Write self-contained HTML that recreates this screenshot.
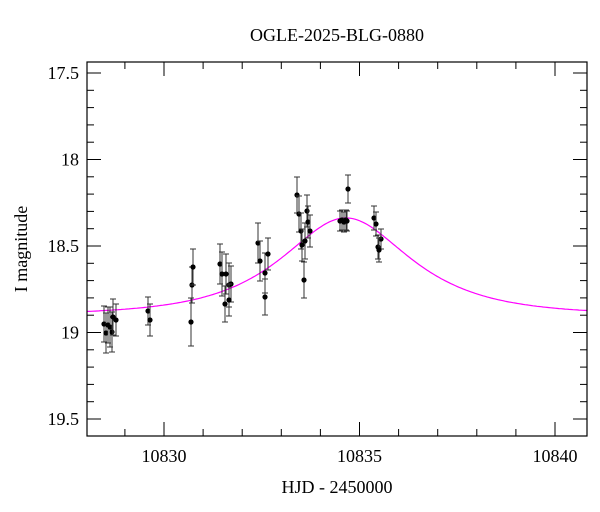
<!DOCTYPE html>
<html><head><style>body{margin:0;background:#fff}svg{display:block}text{font-family:"Liberation Serif",serif;fill:#000}</style></head>
<body>
<svg id="s" width="600" height="512" xmlns="http://www.w3.org/2000/svg">
<text x="337" y="41" font-size="18" text-anchor="middle">OGLE-2025-BLG-0880</text>
<text x="337" y="493" font-size="18" text-anchor="middle">HJD - 2450000</text>
<text transform="translate(27,249) rotate(-90)" font-size="18" text-anchor="middle">I magnitude</text>
<g id="g"></g>
<rect x="87" y="62" width="500" height="374" fill="none" stroke="#000" stroke-width="1.2"/>
</svg>
<script>
var g=document.getElementById('g'),h='';
function X(t){return 164+(t-10830)*39.1}
function Y(m){return 73+(m-17.5)*173}
for(var m=17.5;m<=19.51;m+=0.1){var y=Y(m),maj=Math.abs(m*2-Math.round(m*2))<0.01,L=maj?14:7;
h+='<line x1="87" x2="'+(87+L)+'" y1="'+y+'" y2="'+y+'" stroke="#000"/><line x1="587" x2="'+(587-L)+'" y1="'+y+'" y2="'+y+'" stroke="#000"/>';
if(maj){var lab=(Math.round(m*10)/10).toString();h+='<text x="79" y="'+(y+6)+'" font-size="18" text-anchor="end">'+lab+'</text>';}}
for(var t=10829;t<=10840;t++){var x=X(t),maj=t%5==0,L=maj?14:7;
h+='<line y1="436" y2="'+(436-L)+'" x1="'+x+'" x2="'+x+'" stroke="#000"/><line y1="62" y2="'+(62+L)+'" x1="'+x+'" x2="'+x+'" stroke="#000"/>';
if(maj)h+='<text x="'+x+'" y="462" font-size="18" text-anchor="middle">'+t+'</text>';}
var p='',t0=10834.65,tE=2.4,u0=0.70,base=18.90;
for(var x=87;x<=587;x+=2){var t=10830+(x-164)/39.1,u=Math.sqrt(u0*u0+Math.pow((t-t0)/tE,2)),A=(u*u+2)/(u*Math.sqrt(u*u+4));
var mm=base-2.5*Math.log10(A);p+=(x==87?'M':'L')+x+' '+Y(mm).toFixed(1);}
h+='<path d="'+p+'" fill="none" stroke="#f0f" stroke-width="1.2"/>';
var pts=[[104,324,18],[106,333,20],[108,325,18],[110,327,20],[112,332,20],[113,317,18],[116,320,16],[148,311,14],[150,320,16],[191,322,24],[192,285,18],[193,267,18],[220,264,20],[222,274,22],[226,274,20],[229,285,22],[231,284,18],[225,304,18],[229,300,16],[258,243,20],[260,261,20],[265,273,20],[268,254,16],[265,297,18],[297,195,18],[299,214,18],[301,231,18],[302,245,16],[305,241,18],[307,211,16],[308,222,16],[310,231,16],[304,280,18],[340,221,10],[342,220,10],[344,222,10],[346,220,10],[347,221,10],[348,189,14],[374,218,12],[376,224,12],[378,247,12],[381,239,10],[379,250,12]];
pts.forEach(function(q){var x=q[0],y=q[1],e=q[2];
h+='<line x1="'+x+'" x2="'+x+'" y1="'+(y-e)+'" y2="'+(y+e)+'" stroke="#333"/><line x1="'+(x-3)+'" x2="'+(x+3)+'" y1="'+(y-e)+'" y2="'+(y-e)+'" stroke="#333"/><line x1="'+(x-3)+'" x2="'+(x+3)+'" y1="'+(y+e)+'" y2="'+(y+e)+'" stroke="#333"/><circle cx="'+x+'" cy="'+y+'" r="2.6" fill="#000"/>';});
g.innerHTML=h;
</script>
</body></html>
